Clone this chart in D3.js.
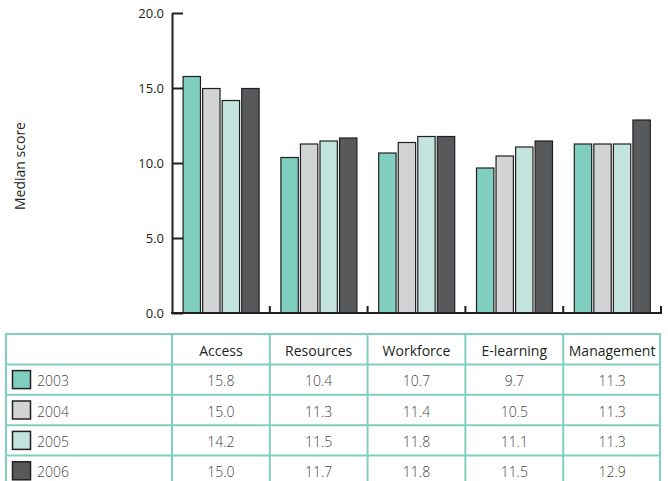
<!DOCTYPE html>
<html>
<head>
<meta charset="utf-8">
<script src="https://cdn.jsdelivr.net/npm/d3@7"></script>
<style>
html,body{margin:0;padding:0;background:#fff;}
svg{display:block;font-family:"Open Sans",sans-serif;}
</style>
</head>
<body>
<svg id="chart" width="668" height="481"></svg>
<script>
const categories = ["Access", "Resources", "Workforce", "E-learning", "Management"];
const years = ["2003", "2004", "2005", "2006"];
const values2003 = [15.8, 10.4, 10.7, 9.7, 11.3];
const values2004 = [15.0, 11.3, 11.4, 10.5, 11.3];
const values2005 = [14.2, 11.5, 11.8, 11.1, 11.3];
const values2006 = [15.0, 11.7, 11.8, 11.5, 12.9];
const yTicks = [0, 5, 10, 15, 20];
const colors = ["#80cebf", "#d1d3d4", "#c2e4dd", "#58595b"];

const series = [values2003, values2004, values2005, values2006];

const svg = d3.select("#chart");
const axisColor = "#231f20";
const tableColor = "#7fcfc0";

const x0 = d3.scaleBand().domain(categories).range([172, 661]);
const x1 = d3.scaleBand().domain(years).range([10.6, x0.bandwidth() - 10.2]).paddingInner(0.06);
const y = d3.scaleLinear().domain([0, 20]).range([313, 13]);

// Bars
const groups = svg.append("g").selectAll("g")
  .data(categories).join("g")
  .attr("transform", d => `translate(${x0(d)},0)`);

groups.selectAll("rect")
  .data((c, ci) => years.map((yr, si) => ({yr, si, v: series[si][ci]})))
  .join("rect")
  .attr("x", d => x1(d.yr) + 0.5)
  .attr("y", d => y(d.v) + 0.5)
  .attr("width", x1.bandwidth() - 1)
  .attr("height", d => y(0) - y(d.v) - 0.5)
  .attr("fill", d => colors[d.si])
  .attr("stroke", axisColor)
  .attr("stroke-width", 1.2);

// Y axis
const yAxis = d3.axisLeft(y).tickValues(yTicks).tickFormat(d3.format(".1f"))
  .tickSize(-11).tickSizeOuter(0).tickPadding(8);
const gy = svg.append("g").attr("transform", "translate(172,0)").call(yAxis);
gy.select(".domain").attr("stroke", axisColor).attr("stroke-width", 2);
gy.selectAll(".tick line").attr("stroke", axisColor).attr("stroke-width", 2);
gy.selectAll(".tick text").attr("fill", axisColor).style("font-size", "13px")
  .style("font-family", "'Open Sans',sans-serif");

// X axis baseline and category ticks
svg.append("line")
  .attr("x1", 171).attr("x2", x0.range()[1] + 1)
  .attr("y1", y(0)).attr("y2", y(0))
  .attr("stroke", axisColor).attr("stroke-width", 2);
svg.append("g").selectAll("line")
  .data(categories).join("line")
  .attr("x1", d => x0(d) + x0.bandwidth())
  .attr("x2", d => x0(d) + x0.bandwidth())
  .attr("y1", y(0)).attr("y2", y(0) - 7)
  .attr("stroke", axisColor).attr("stroke-width", 2);

// Y label
svg.append("text")
  .attr("transform", "translate(19,166) rotate(-90)")
  .attr("text-anchor", "middle")
  .attr("dominant-baseline", "central")
  .attr("fill", axisColor)
  .style("font-size", "14px")
  .text("Median score");

// Table
const rows = ["header"].concat(years);
const ry = d3.scaleBand().domain(rows).range([334, 486]);
const tableLeft = 6, tableRight = 660;
const tbl = svg.append("g");

// vertical lines
const vx = [tableLeft].concat(categories.map(c => x0(c))).concat([tableRight]);
tbl.selectAll("line.v").data(vx).join("line").attr("class", "v")
  .attr("x1", d => d).attr("x2", d => d)
  .attr("y1", ry.range()[0]).attr("y2", ry.range()[1])
  .attr("stroke", tableColor).attr("stroke-width", 2);
// horizontal lines
tbl.selectAll("line.h").data(rows).join("line").attr("class", "h")
  .attr("x1", tableLeft - 1).attr("x2", tableRight + 1)
  .attr("y1", d => ry(d)).attr("y2", d => ry(d))
  .attr("stroke", tableColor).attr("stroke-width", 2);

// header text
tbl.selectAll("text.hdr").data(categories).join("text").attr("class", "hdr")
  .attr("x", d => x0(d) + x0.bandwidth() / 2)
  .attr("y", ry("header") + ry.bandwidth() / 2 + 1)
  .attr("text-anchor", "middle")
  .attr("dominant-baseline", "central")
  .attr("fill", axisColor)
  .style("font-size", "14px")
  .text(d => d);

// rows
years.forEach((yr, si) => {
  const cy = ry(yr) + ry.bandwidth() / 2;
  tbl.append("rect")
    .attr("x", 12.5).attr("y", cy - 9)
    .attr("width", 18).attr("height", 18)
    .attr("fill", colors[si])
    .attr("stroke", axisColor).attr("stroke-width", 1.5);
  tbl.append("text")
    .attr("x", 37).attr("y", cy + 1)
    .attr("dominant-baseline", "central")
    .attr("fill", "#444")
    .style("font-size", "14px").style("font-weight", 300)
    .text(yr);
  tbl.selectAll(null).data(categories).join("text")
    .attr("x", d => x0(d) + x0.bandwidth() / 2)
    .attr("y", cy + 1)
    .attr("text-anchor", "middle")
    .attr("dominant-baseline", "central")
    .attr("fill", "#444")
    .style("font-size", "14px").style("font-weight", 300)
    .text((d, ci) => d3.format(".1f")(series[si][ci]));
});
</script>
</body>
</html>
